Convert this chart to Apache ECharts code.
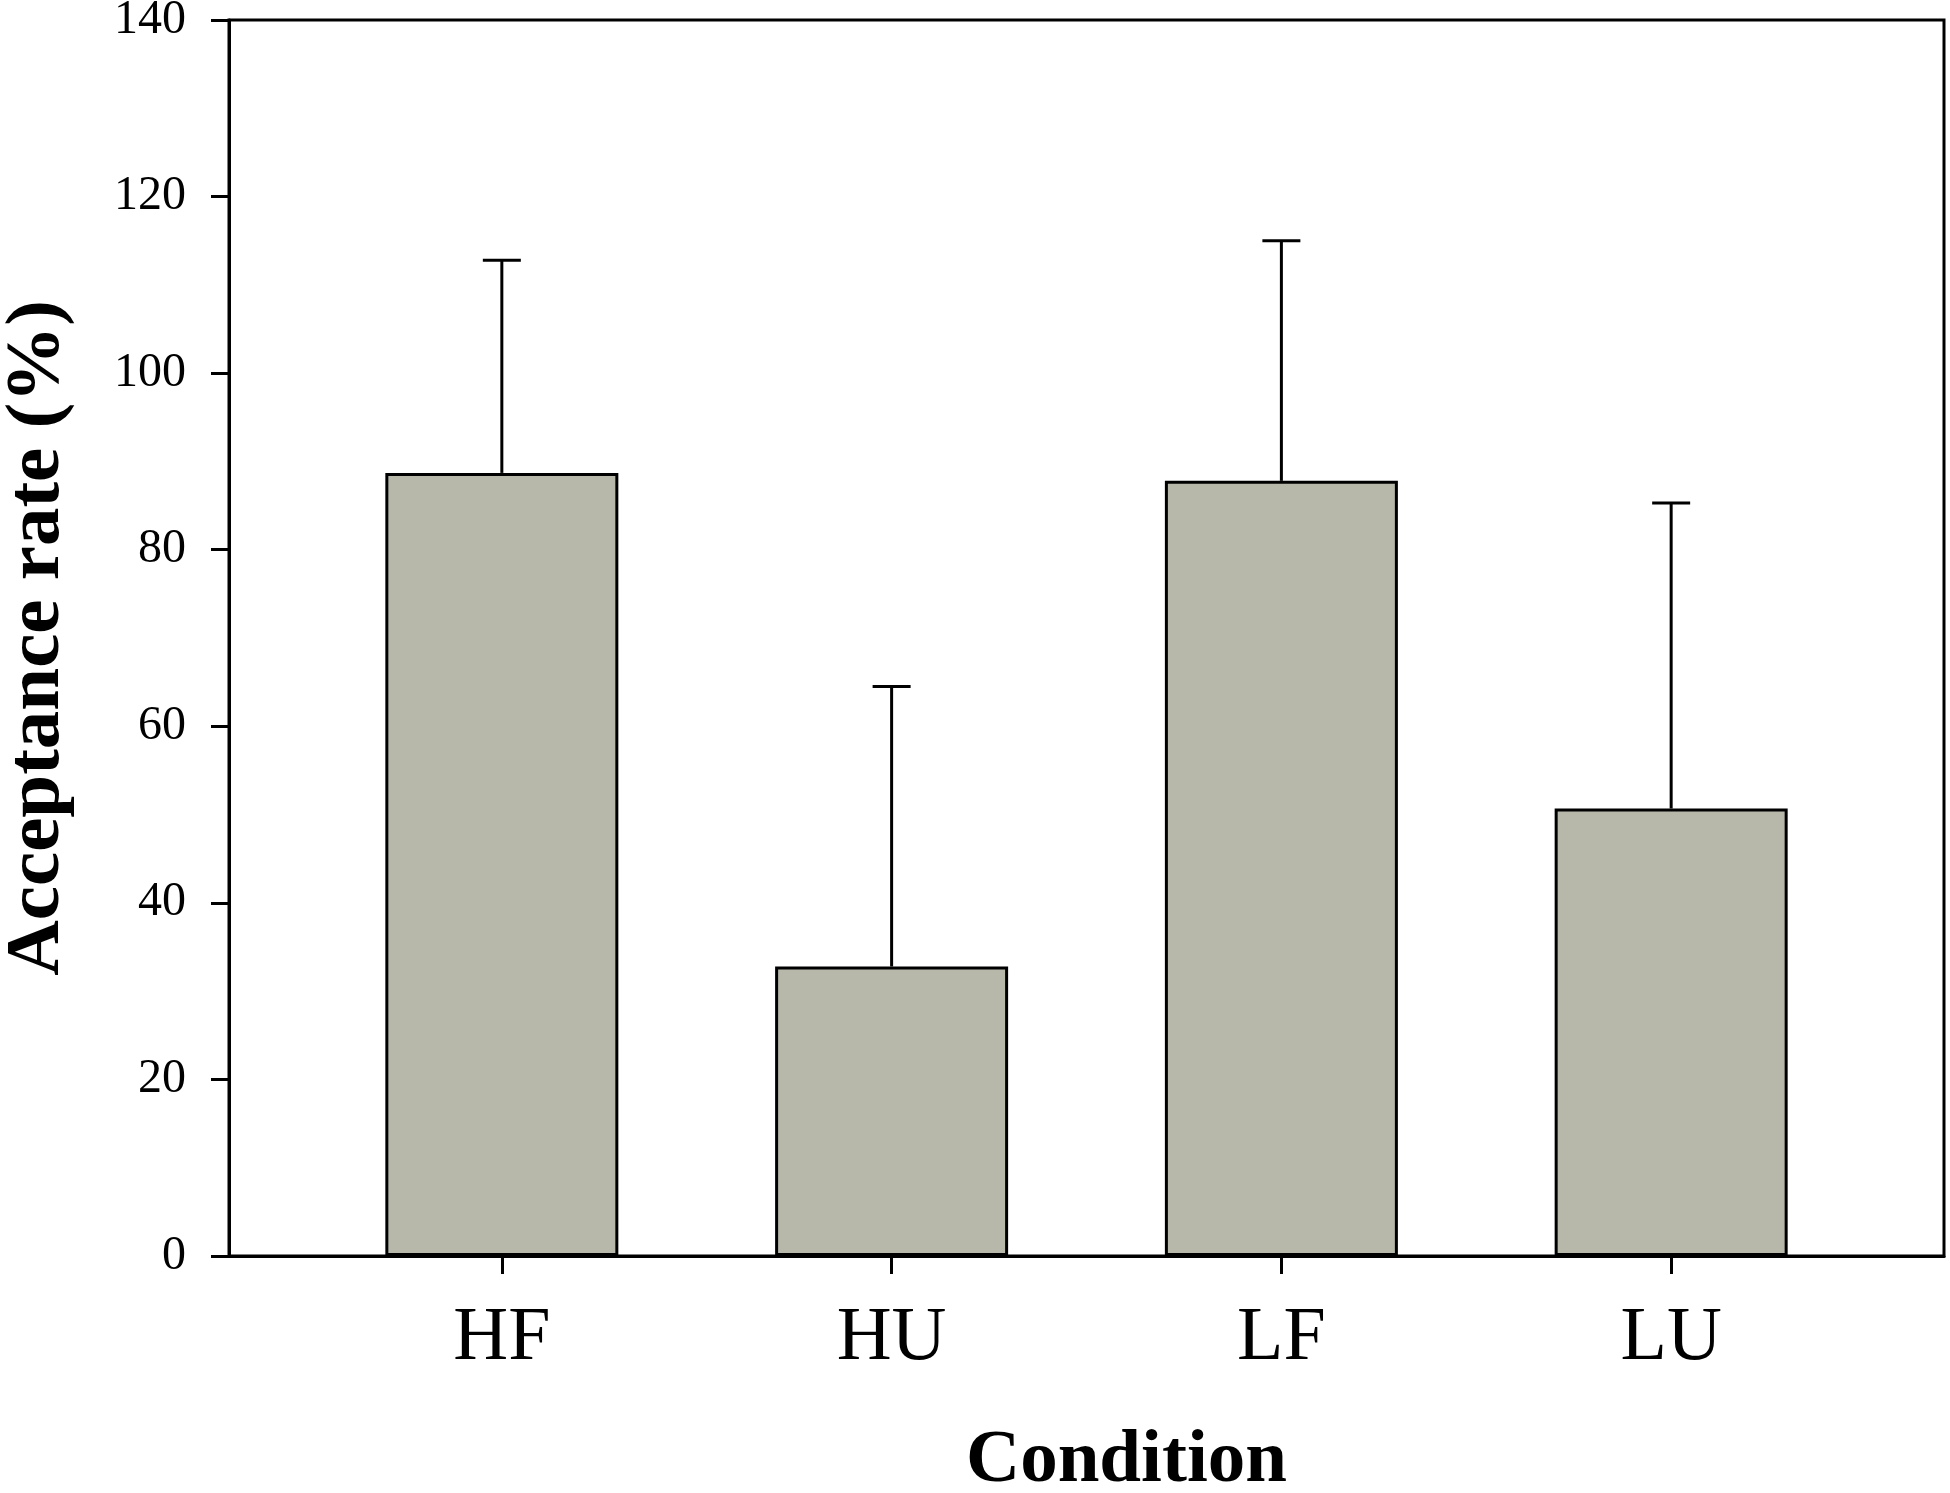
<!DOCTYPE html>
<html>
<head>
<meta charset="utf-8">
<script src="https://cdn.jsdelivr.net/npm/echarts@6/dist/echarts.min.js"></script>
<style>
  html, body { margin: 0; padding: 0; background: #fff; }
  #chart { width: 1950px; height: 1493px; }
</style>
</head>
<body>
<div id="chart"></div>
<script>
var categories = ['HF', 'HU', 'LF', 'LU'];
var positions = [1, 2, 3, 4];
var means = [88.7, 32.8, 87.8, 50.7];
var errors = [24.1, 31.7, 27.2, 34.6];
var yTicks = [0, 20, 40, 60, 80, 100, 120, 140];

var serif = "'Liberation Serif', 'Times New Roman', serif";

var barData = [];
var errData = [];
for (var i = 0; i < categories.length; i++) {
  barData.push([positions[i], means[i]]);
  errData.push([positions[i], means[i], means[i] + errors[i]]);
}

var chart = echarts.init(document.getElementById('chart'));
chart.setOption({
  backgroundColor: '#fff',
  animation: false,
  title: {
    text: 'Condition',
    left: 961,
    top: 1419,
    textStyle: {
      fontFamily: serif,
      fontWeight: 'bold',
      fontSize: 75,
      color: '#000'
    }
  },
  grid: {
    left: 229,
    right: 6,
    top: 20,
    bottom: 237,
    show: true,
    borderColor: '#000',
    borderWidth: 3,
    containLabel: false,
    outerBoundsMode: 'none'
  },
  xAxis: {
    type: 'value',
    min: 0.3,
    max: 4.7,
    splitLine: { show: false },
    axisLine: { show: true, lineStyle: { color: '#000', width: 3 } },
    axisTick: {
      show: true,
      customValues: positions,
      length: 18,
      lineStyle: { color: '#000', width: 3 }
    },
    axisLabel: {
      customValues: positions,
      margin: 45,
      fontFamily: serif,
      fontSize: 76,
      color: '#000',
      formatter: function (v) {
        return categories[positions.indexOf(v)] || '';
      }
    }
  },
  yAxis: {
    type: 'value',
    min: 0,
    max: 140,
    interval: 20,
    name: 'Acceptance rate (%)',
    nameLocation: 'middle',
    nameGap: 152,
    nameTextStyle: {
      fontFamily: serif,
      fontWeight: 'bold',
      fontSize: 77,
      color: '#000'
    },
    splitLine: { show: false },
    axisLine: { show: true, lineStyle: { color: '#000', width: 3 } },
    axisTick: { show: true, length: 18, lineStyle: { color: '#000', width: 3 } },
    axisLabel: {
      margin: 43,
      fontFamily: serif,
      fontSize: 48,
      color: '#000',
      formatter: function (v) {
        return yTicks.indexOf(v) >= 0 ? String(v) : '';
      }
    }
  },
  series: [
    {
      type: 'bar',
      data: barData,
      barWidth: 233,
      itemStyle: {
        color: '#b7b8aa',
        borderColor: '#000',
        borderWidth: 3
      },
      z: 2
    },
    {
      type: 'custom',
      data: errData,
      z: 3,
      renderItem: function (params, api) {
        var x = api.value(0);
        var base = api.coord([x, api.value(1)]);
        var top = api.coord([x, api.value(2)]);
        var half = 19;
        var style = { stroke: '#000', lineWidth: 3 };
        return {
          type: 'group',
          children: [
            { type: 'line', shape: { x1: base[0], y1: base[1], x2: top[0], y2: top[1] }, style: style },
            { type: 'line', shape: { x1: top[0] - half, y1: top[1], x2: top[0] + half, y2: top[1] }, style: style }
          ]
        };
      }
    }
  ]
});
window.onresize = chart.resize;
</script>
</body>
</html>
